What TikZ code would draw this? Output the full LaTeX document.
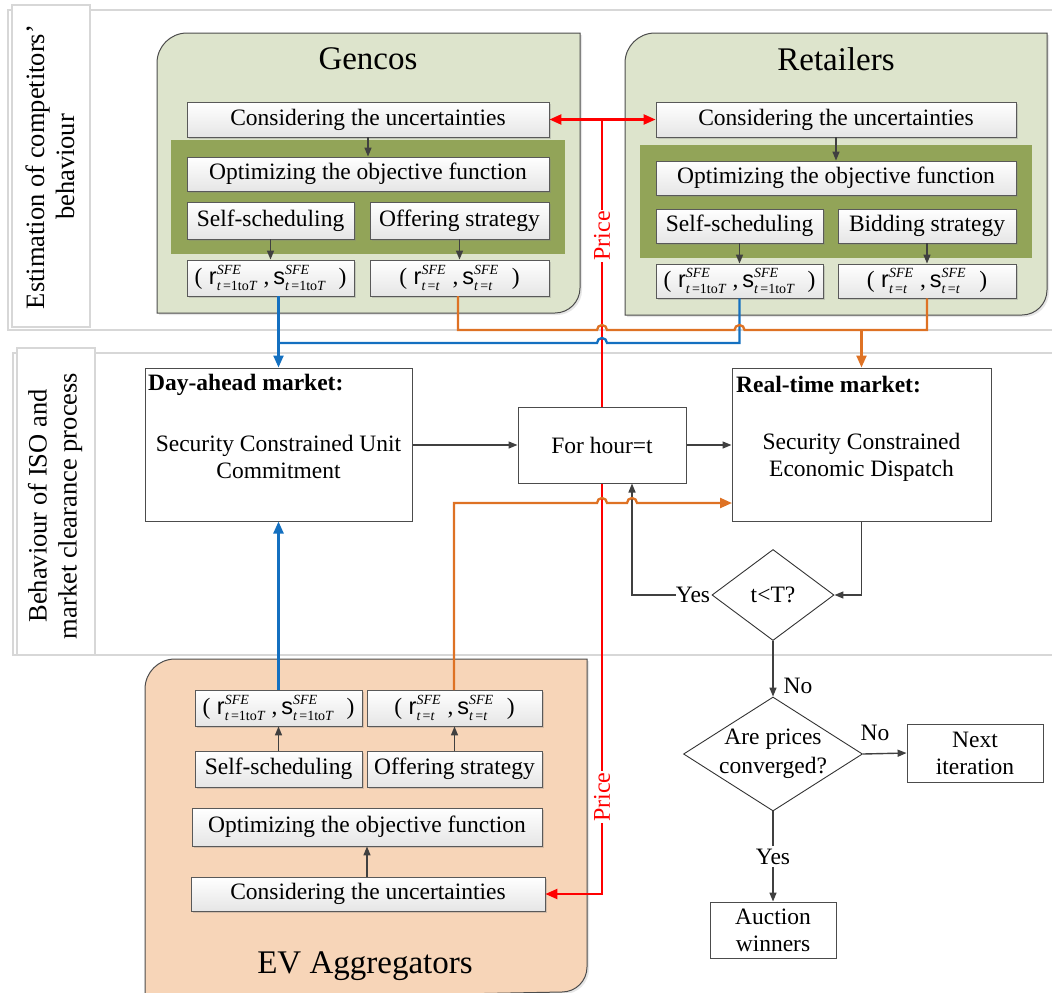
\documentclass[tikz,border=0pt]{standalone}
\usepackage{fontspec}
\setmainfont{Liberation Serif}
\setsansfont{Liberation Sans}
\usetikzlibrary{arrows.meta,shapes.geometric,shadows,calc}
\definecolor{gfill}{RGB}{221,228,204}
\definecolor{gdark}{RGB}{146,164,88}
\definecolor{pfill}{RGB}{247,213,184}
\definecolor{lblue}{RGB}{20,112,192}
\definecolor{lorange}{RGB}{222,114,36}
\definecolor{lred}{RGB}{255,0,0}
\definecolor{lgray}{RGB}{64,64,64}
\definecolor{bandc}{RGB}{215,215,215}
\newcommand{\scrtxt}[1]{\mbox{\fontsize{14}{14}\selectfont #1}}
\newcommand{\rspair}[1]{(\;$\mbox{\sffamily r}^{\scrtxt{\itshape SFE}}_{\scrtxt{#1}}$\;,\,$\mbox{\sffamily s}^{\scrtxt{\itshape SFE}}_{\scrtxt{#1}}$\;\;)}
\newcommand{\subA}{\itshape t\upshape\,=1to\itshape T}
\newcommand{\subB}{\itshape t\upshape\,=\itshape t}
\begin{document}
\begin{tikzpicture}[x=1pt,y=-1pt,
  every node/.style={font=\fontsize{23.5}{27}\selectfont, inner sep=0pt},
  ibox/.style={draw=black!65, line width=0.8pt, top color=white, bottom color=black!10,
    drop shadow={opacity=0.3,shadow xshift=2pt,shadow yshift=-2pt}},
  mbox/.style={draw=black!70, line width=1pt, fill=white},
  cont/.style={draw=black!70, line width=1pt, drop shadow={opacity=0.2,shadow xshift=2pt,shadow yshift=-2pt}},
  band/.style={draw=bandc, line width=1.4pt},
  labbox/.style={draw=bandc, line width=1.2pt, fill=white},
  garr/.style={draw=lgray, line width=1.4pt, -{Triangle[length=9pt,width=7pt]}},
  bline/.style={draw=lblue, line width=2.3pt},
  oline/.style={draw=lorange, line width=2.3pt},
  rline/.style={draw=lred, line width=2.3pt},
  ctip/.style={-{Triangle[length=12pt,width=10pt]}},
  title/.style={font=\fontsize{33}{36}\selectfont},
  sidelab/.style={rotate=90, align=center, font=\fontsize{26.5}{30}\selectfont},
  pricelab/.style={rotate=90, fill=white, text=lred, inner sep=1pt, font=\fontsize{24}{25}\selectfont},
]
\useasboundingbox (0,0) rectangle (1052,993);

% bands
\draw[band] (8,10) rectangle (1062,330);
\draw[band] (13,353) rectangle (1062,655);
\draw[labbox] (12,5) rectangle (90,327);
\draw[labbox] (17,348) rectangle (95,655);
\node[sidelab] (lab1) at (50,167) {Estimation of competitors'\\behaviour};
\node[sidelab] (lab2) at (55,506) {Behaviour of ISO and\\market clearance process};

% containers
\draw[cont, fill=gfill] (157,313) -- (157,63) arc[start angle=180,end angle=270,radius=30] -- (580,33) -- (580,288) arc[start angle=0,end angle=90,radius=25] -- cycle;
\draw[cont, fill=gfill] (625,315) -- (625,63) arc[start angle=180,end angle=270,radius=30] -- (1047,33) -- (1047,290) arc[start angle=0,end angle=90,radius=25] -- cycle;
\draw[cont, fill=pfill] (145,1000) -- (145,689) arc[start angle=180,end angle=270,radius=30] -- (587,659) -- (587,967) arc[start angle=0,end angle=90,radius=25] -- cycle;
\fill[gdark] (171,140) rectangle (565,254);
\fill[gdark] (640,145) rectangle (1032,258);

\node[title] (gt) at (368,59) {Gencos};
\node[title] (rtit) at (836,59) {Retailers};
\node[title] (et) at (365,966) {EV Aggregators};

% Gencos
\node[ibox, minimum width=362pt, minimum height=35pt] (gc) at (368,119.5) {Considering the uncertainties};
\node[ibox, minimum width=362pt, minimum height=34pt] (go) at (368,174) {Optimizing the objective function};
\node[ibox, minimum width=167pt, minimum height=37pt] (gs) at (270.5,220.5) {Self-scheduling};
\node[ibox, minimum width=179pt, minimum height=37pt] (gof) at (459.5,220.5) {Offering strategy};
\node[ibox, minimum width=167pt, minimum height=36pt] (gf1) at (270.5,278) {\rspair{\subA}};
\node[ibox, minimum width=179pt, minimum height=36pt] (gf2) at (459.5,278) {\rspair{\subB}};
\draw[garr] (gc) -- (go);
\draw[garr] (gs) -- (gf1);
\draw[garr] (gof) -- (gf2);

% Retailers
\node[ibox, minimum width=360pt, minimum height=35pt] (rc) at (836,119.5) {Considering the uncertainties};
\node[ibox, minimum width=360pt, minimum height=34pt] (ro) at (836,178) {Optimizing the objective function};
\node[ibox, minimum width=167pt, minimum height=34pt] (rs) at (739.5,226) {Self-scheduling};
\node[ibox, minimum width=178pt, minimum height=34pt] (rb) at (927,226) {Bidding strategy};
\node[ibox, minimum width=167pt, minimum height=34pt] (rf1) at (739.5,281) {\rspair{\subA}};
\node[ibox, minimum width=178pt, minimum height=34pt] (rf2) at (927,281) {\rspair{\subB}};
\draw[garr] (rc) -- (ro);
\draw[garr] (rs) -- (rf1);
\draw[garr] (rb) -- (rf2);

% EV aggregators
\node[ibox, minimum width=167pt, minimum height=36pt] (ef1) at (278.5,708) {\rspair{\subA}};
\node[ibox, minimum width=175pt, minimum height=36pt] (ef2) at (454.5,708) {\rspair{\subB}};
\node[ibox, minimum width=167pt, minimum height=36pt] (es) at (278.5,769) {Self-scheduling};
\node[ibox, minimum width=175pt, minimum height=36pt] (eo) at (454.5,769) {Offering strategy};
\node[ibox, minimum width=350pt, minimum height=38pt] (eop) at (367,827) {Optimizing the objective function};
\node[ibox, minimum width=354pt, minimum height=34pt] (ec) at (368,894) {Considering the uncertainties};
\draw[garr] (ec.north -| eop.south) -- (eop.south);
\draw[garr] (es) -- (ef1);
\draw[garr] (eo) -- (ef2);

% market boxes
\node[mbox, minimum width=267pt, minimum height=153pt] (da) at (278.5,444.5) {};
\node[anchor=west] (dat) at (148,385) {\textbf{Day-ahead market:}};
\node[align=center] (dab) at (278.5,457) {Security Constrained Unit\\Commitment};
\node[mbox, minimum width=168pt, minimum height=76pt] (fh) at (602,445) {For hour=t};
\node[mbox, minimum width=259pt, minimum height=153pt] (rt) at (861.5,444.5) {};
\node[anchor=west] (rtt) at (736,385) {\textbf{Real-time market:}};
\node[align=center] (rtb) at (861.5,457) {Security Constrained\\Economic Dispatch};

\node[diamond, draw=black!80, line width=0.9pt, minimum width=122pt, minimum height=91pt] (d1) at (773,595) {};
\node (d1t) at (773,595) {t<T?};
\node[diamond, draw=black!80, line width=0.9pt, minimum width=179pt, minimum height=114pt] (d2) at (773,754) {};
\node[align=center, font=\fontsize{23.5}{29}\selectfont] (d2t) at (773,754) {Are prices\\converged?};
\node[mbox, line width=0.9pt, minimum width=136pt, minimum height=58pt, align=center] (ni) at (975,753) {Next\\iteration};
\node[mbox, line width=0.9pt, minimum width=126pt, minimum height=56pt, align=center] (aw) at (773,930) {Auction\\winners};

% gray flow
\draw[garr] (da.east |- fh.west) -- (fh.west);
\draw[garr] (fh.east) -- (fh.east -| rt.west);
\draw[garr] (rt.south) |- (d1.east);
\node (yes1) at (693,595) {Yes};
\coordinate (lp) at ($(fh.south)+(30,0)$);
\draw[garr] (yes1.west) -| (lp);
\draw[garr] (d1.south) -- (d2.north);
\node (no1) at (798,686) {No};
\draw[garr] (d2.east) -- (ni.west);
\node (no2) at (875,733) {No};
\draw[garr] (d2.south) -- node[fill=white, inner sep=3pt] (yes2) {Yes} (aw.north);

% red price lines
\coordinate (rj) at (fh.north |- gc.east);
\draw[rline, {Triangle[length=12pt,width=10pt]}-{Triangle[length=12pt,width=10pt]}] (gc.east) -- (rc.west);
\draw[rline] (rj) -- (fh.north);
\draw[rline, ctip] (fh.south) |- (ec.east);
\node[pricelab] (p1) at (602,236) {Price};
\node[pricelab] (p2) at (602,797) {Price};

% blue lines
\coordinate (bj) at (278.5,343);
\draw[bline] (bj) -- (597,343) arc[start angle=180,end angle=360,radius=5] -- (rf1.south |- bj) -- (rf1.south);
\draw[bline, ctip] (gf1.south -| da.north) -- (da.north);
\draw[bline, ctip] (ef1.north) -- (da.south);

% orange lines
\coordinate (oj) at (861.5,330);
\coordinate (og) at (458,296);
\draw[oline] (og) -- (458,330) -- (597,330) arc[start angle=180,end angle=360,radius=5] -- (734.5,330) arc[start angle=180,end angle=360,radius=5] -- (rf2.south |- oj) -- (rf2.south);
\draw[oline, ctip] (oj) -- (rt.north);
\coordinate (ob) at (732,503);
\coordinate (oe) at (454,690);
\draw[oline, ctip] (oe) -- (454,503) -- (597,503) arc[start angle=180,end angle=360,radius=5] -- (627,503) arc[start angle=180,end angle=360,radius=5] -- (ob);
\end{tikzpicture}
\end{document}
